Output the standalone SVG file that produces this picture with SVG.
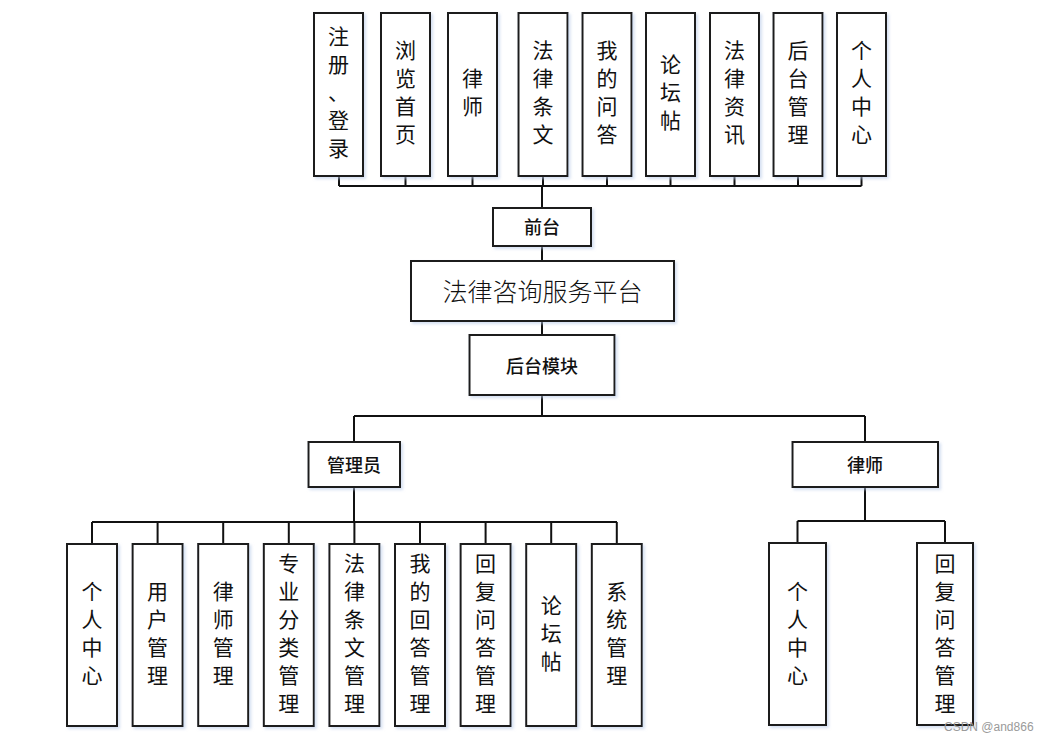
<svg xmlns="http://www.w3.org/2000/svg" width="1042" height="741" viewBox="0 0 1042 741">
<style>
.box{fill:#fff;stroke:#1a1a1a;stroke-width:2;filter:url(#sh)}
.ln{fill:none;stroke:#111;stroke-width:2}
.v{font-family:"Noto Sans CJK SC","Noto Sans",sans-serif;font-size:21px;fill:#111;text-anchor:middle;dominant-baseline:central;transform:translateY(-2px)}
.h{font-family:"Noto Sans CJK SC","Noto Sans",sans-serif;font-size:18px;font-weight:500;fill:#111;text-anchor:middle;dominant-baseline:central;transform:translateY(-1px)}
.big{font-family:"Noto Sans CJK SC","Noto Sans",sans-serif;font-size:25px;font-weight:300;fill:#111;text-anchor:middle;dominant-baseline:central;transform:translateY(-1px)}
.wm{font-family:"Liberation Sans",Arial,sans-serif;font-size:12px;fill:#9a9a9a}
</style>
<defs>
<filter id="sh" x="-20%" y="-20%" width="140%" height="140%">
<feDropShadow dx="2" dy="2" stdDeviation="1.5" flood-color="#b8cbe8" flood-opacity="0.6"/>
</filter>
</defs>
<rect width="1042" height="741" fill="#fff"/>
<g id="connectors">
<path class="ln" d="M339 176V186M405.5 176V186M472.5 176V186M543 176V186M607 176V186M670.5 176V186M734.5 176V186M798 176V186M861.5 176V186M339 186H861.5M542 186V208"/>
<path class="ln" d="M542 246V261M542 321V335M542 395V416M354 416H865M354 416V442M865 416V442"/>
<path class="ln" d="M354 487V522M92 522H617M92 522V544M157.6 522V544M223.2 522V544M288.8 522V544M354.4 522V544M420 522V544M485.6 522V544M551.2 522V544M616.8 522V544"/>
<path class="ln" d="M865 487V521M797.5 521H945M797.5 521V543M945 521V543"/>
</g>
<g id="n-top1"><rect class="box" x="314" y="13" width="49" height="163"/><text class="v" x="338.5"><tspan x="338.5" y="37">注</tspan><tspan x="338.5" y="65">册</tspan><tspan x="338.5" y="93">、</tspan><tspan x="338.5" y="121">登</tspan><tspan x="338.5" y="149">录</tspan></text></g>
<g id="n-top2"><rect class="box" x="381" y="13" width="49" height="163"/><text class="v"><tspan x="405.5" y="51">浏</tspan><tspan x="405.5" y="79">览</tspan><tspan x="405.5" y="107">首</tspan><tspan x="405.5" y="135">页</tspan></text></g>
<g id="n-top3"><rect class="box" x="448" y="13" width="49" height="163"/><text class="v"><tspan x="472.5" y="79">律</tspan><tspan x="472.5" y="107">师</tspan></text></g>
<g id="n-top4"><rect class="box" x="518.5" y="13" width="49" height="163"/><text class="v"><tspan x="543" y="51">法</tspan><tspan x="543" y="79">律</tspan><tspan x="543" y="107">条</tspan><tspan x="543" y="135">文</tspan></text></g>
<g id="n-top5"><rect class="box" x="582.5" y="13" width="49" height="163"/><text class="v"><tspan x="607" y="51">我</tspan><tspan x="607" y="79">的</tspan><tspan x="607" y="107">问</tspan><tspan x="607" y="135">答</tspan></text></g>
<g id="n-top6"><rect class="box" x="646" y="13" width="49" height="163"/><text class="v"><tspan x="670.5" y="65">论</tspan><tspan x="670.5" y="93">坛</tspan><tspan x="670.5" y="121">帖</tspan></text></g>
<g id="n-top7"><rect class="box" x="710" y="13" width="49" height="163"/><text class="v"><tspan x="734.5" y="51">法</tspan><tspan x="734.5" y="79">律</tspan><tspan x="734.5" y="107">资</tspan><tspan x="734.5" y="135">讯</tspan></text></g>
<g id="n-top8"><rect class="box" x="773.5" y="13" width="49" height="163"/><text class="v"><tspan x="798" y="51">后</tspan><tspan x="798" y="79">台</tspan><tspan x="798" y="107">管</tspan><tspan x="798" y="135">理</tspan></text></g>
<g id="n-top9"><rect class="box" x="837" y="13" width="49" height="163"/><text class="v"><tspan x="861.5" y="51">个</tspan><tspan x="861.5" y="79">人</tspan><tspan x="861.5" y="107">中</tspan><tspan x="861.5" y="135">心</tspan></text></g>
<g id="n-front"><rect class="box" x="493" y="208" width="98" height="38"/><text class="h" x="542" y="227">前台</text></g>
<g id="n-platform"><rect class="box" x="411" y="261" width="263" height="60"/><text class="big" x="542.5" y="291">法律咨询服务平台</text></g>
<g id="n-backend"><rect class="box" x="469.5" y="335" width="145" height="60"/><text class="h" x="542" y="366">后台模块</text></g>
<g id="n-admin"><rect class="box" x="308.5" y="442" width="91.5" height="45"/><text class="h" x="354" y="464.5">管理员</text></g>
<g id="n-lawyer"><rect class="box" x="792.5" y="442" width="145.5" height="45"/><text class="h" x="865" y="464.5">律师</text></g>
<g id="n-b1"><rect class="box" x="67" y="544" width="50" height="182"/><text class="v"><tspan x="92" y="592">个</tspan><tspan x="92" y="620">人</tspan><tspan x="92" y="648">中</tspan><tspan x="92" y="676">心</tspan></text></g>
<g id="n-b2"><rect class="box" x="132.6" y="544" width="50" height="182"/><text class="v"><tspan x="157.6" y="592">用</tspan><tspan x="157.6" y="620">户</tspan><tspan x="157.6" y="648">管</tspan><tspan x="157.6" y="676">理</tspan></text></g>
<g id="n-b3"><rect class="box" x="198.2" y="544" width="50" height="182"/><text class="v"><tspan x="223.2" y="592">律</tspan><tspan x="223.2" y="620">师</tspan><tspan x="223.2" y="648">管</tspan><tspan x="223.2" y="676">理</tspan></text></g>
<g id="n-b4"><rect class="box" x="263.8" y="544" width="50" height="182"/><text class="v"><tspan x="288.8" y="564">专</tspan><tspan x="288.8" y="592">业</tspan><tspan x="288.8" y="620">分</tspan><tspan x="288.8" y="648">类</tspan><tspan x="288.8" y="676">管</tspan><tspan x="288.8" y="704">理</tspan></text></g>
<g id="n-b5"><rect class="box" x="329.4" y="544" width="50" height="182"/><text class="v"><tspan x="354.4" y="564">法</tspan><tspan x="354.4" y="592">律</tspan><tspan x="354.4" y="620">条</tspan><tspan x="354.4" y="648">文</tspan><tspan x="354.4" y="676">管</tspan><tspan x="354.4" y="704">理</tspan></text></g>
<g id="n-b6"><rect class="box" x="395" y="544" width="50" height="182"/><text class="v"><tspan x="420" y="564">我</tspan><tspan x="420" y="592">的</tspan><tspan x="420" y="620">回</tspan><tspan x="420" y="648">答</tspan><tspan x="420" y="676">管</tspan><tspan x="420" y="704">理</tspan></text></g>
<g id="n-b7"><rect class="box" x="460.6" y="544" width="50" height="182"/><text class="v"><tspan x="485.6" y="564">回</tspan><tspan x="485.6" y="592">复</tspan><tspan x="485.6" y="620">问</tspan><tspan x="485.6" y="648">答</tspan><tspan x="485.6" y="676">管</tspan><tspan x="485.6" y="704">理</tspan></text></g>
<g id="n-b8"><rect class="box" x="526.2" y="544" width="50" height="182"/><text class="v"><tspan x="551.2" y="606">论</tspan><tspan x="551.2" y="634">坛</tspan><tspan x="551.2" y="662">帖</tspan></text></g>
<g id="n-b9"><rect class="box" x="591.8" y="544" width="50" height="182"/><text class="v"><tspan x="616.8" y="592">系</tspan><tspan x="616.8" y="620">统</tspan><tspan x="616.8" y="648">管</tspan><tspan x="616.8" y="676">理</tspan></text></g>
<g id="n-r1"><rect class="box" x="769" y="543" width="57" height="182"/><text class="v"><tspan x="797.5" y="592">个</tspan><tspan x="797.5" y="620">人</tspan><tspan x="797.5" y="648">中</tspan><tspan x="797.5" y="676">心</tspan></text></g>
<g id="n-r2"><rect class="box" x="917" y="543" width="56" height="182"/><text class="v"><tspan x="945" y="564">回</tspan><tspan x="945" y="592">复</tspan><tspan x="945" y="620">问</tspan><tspan x="945" y="648">答</tspan><tspan x="945" y="676">管</tspan><tspan x="945" y="704">理</tspan></text></g>
<text class="wm" x="944" y="731">CSDN @and866</text>
</svg>
